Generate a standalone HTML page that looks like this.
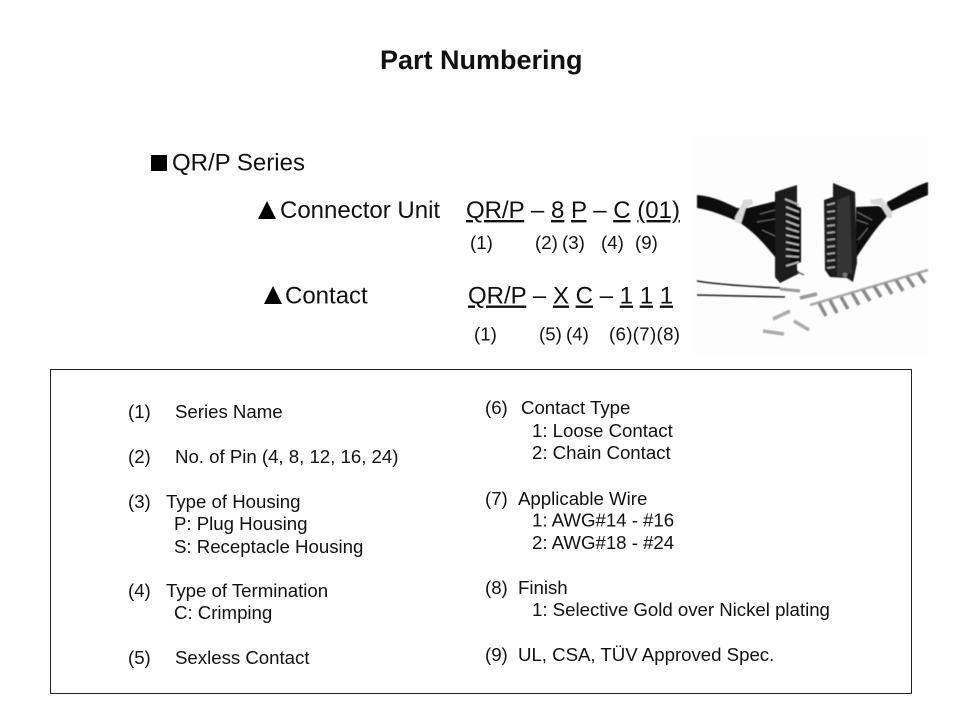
<!DOCTYPE html>
<html><head><meta charset="utf-8"><style>
html,body{margin:0;padding:0;background:#fff}
svg{display:block}
text{font-family:"Liberation Sans",sans-serif;fill:#111}
.s{font-size:18.67px;letter-spacing:-0.02px}
.n{font-size:18.67px}
.m{font-size:24px}
</style></head><body>
<svg width="960" height="720" viewBox="0 0 960 720" xmlns="http://www.w3.org/2000/svg">
<defs><filter id="b" x="-5%" y="-5%" width="110%" height="110%"><feGaussianBlur stdDeviation="0.6"/></filter></defs>
<rect width="960" height="720" fill="#fff"/>
<text x="380" y="69" font-size="27" font-weight="700">Part Numbering</text>

<rect x="151" y="155" width="16" height="16" fill="#000"/>
<text x="172" y="170.5" class="m">QR/P Series</text>
<polygon points="258,219 276,219 267,201" fill="#000"/>
<text x="280" y="218" class="m">Connector Unit</text>
<text x="466" y="218" class="m" xml:space="preserve"><tspan text-decoration="underline">QR/P</tspan> – <tspan text-decoration="underline">8</tspan> <tspan text-decoration="underline">P</tspan> – <tspan text-decoration="underline">C</tspan> <tspan text-decoration="underline">(01)</tspan></text>
<text x="470" y="249" class="n">(1)</text>
<text x="535" y="249" class="n">(2)</text>
<text x="562" y="249" class="n">(3)</text>
<text x="601" y="249" class="n">(4)</text>
<text x="635" y="249" class="n">(9)</text>

<polygon points="264,304 282,304 273,286" fill="#000"/>
<text x="285" y="303.5" class="m">Contact</text>
<text x="468" y="303.5" class="m" xml:space="preserve"><tspan text-decoration="underline">QR/P</tspan> – <tspan text-decoration="underline">X</tspan> <tspan text-decoration="underline">C</tspan> – <tspan text-decoration="underline">1</tspan> <tspan text-decoration="underline">1</tspan> <tspan text-decoration="underline">1</tspan></text>
<text x="474" y="340.5" class="n">(1)</text>
<text x="539" y="340.5" class="n">(5)</text>
<text x="566" y="340.5" class="n">(4)</text>
<text x="609" y="340.5" class="n" textLength="71">(6)(7)(8)</text>

<!-- photo -->
<rect x="695" y="135" width="233" height="222" fill="#fdfdfd"/>
<g filter="url(#b)">
<!-- left cable -->
<path d="M697,195 C712,196 725,202 737,208 L737,221 C725,216 710,210 697,208Z" fill="#0c0c0c"/>
<path d="M748,208 L776,201 L776,258 C765,245 755,232 737,221 L737,208Z" fill="#0c0c0c"/>
<path d="M757,222 L775,219 M760,214 L775,210 M762,230 L775,236" stroke="#777" stroke-width="0.8"/>
<path d="M735,217 L741,206 L743,200 L752,199 L753,204 L746,208 L741,224 L735,222Z" fill="#d8d8d8"/>
<!-- left connector -->
<path d="M775,192 L797,185 L797,270 L800,273 L780,283 L775,277Z" fill="#1c1c1c"/>
<path d="M790,203 L801,208 L801,262 L790,268Z" fill="#111"/>
<g stroke="#b5b5b5" stroke-width="1.8">
<line x1="785" y1="199" x2="799" y2="205"/><line x1="786" y1="207" x2="799" y2="212"/>
<line x1="786" y1="214" x2="799" y2="219"/><line x1="786" y1="221" x2="799" y2="226"/>
<line x1="786" y1="228" x2="799" y2="232"/><line x1="786" y1="235" x2="799" y2="238"/>
<line x1="786" y1="242" x2="799" y2="245"/><line x1="786" y1="249" x2="799" y2="251"/>
<line x1="786" y1="256" x2="799" y2="257"/><line x1="786" y1="266" x2="799" y2="262"/>
</g>
<path d="M798,272 L804,275" stroke="#666" stroke-width="1.5"/>
<!-- right cable -->
<path d="M928,182 C910,188 898,197 887,202 L887,213 C900,208 915,200 928,195Z" fill="#0c0c0c"/>
<path d="M856,207 L878,206 L892,212 C880,222 868,240 856,258Z" fill="#0c0c0c"/>
<path d="M857,212 L872,220 M857,220 L868,224 M858,240 L868,228" stroke="#777" stroke-width="0.8"/>
<path d="M870,200 L882,198 L892,212 L892,218 L888,218 L880,205 L871,204Z" fill="#d8d8d8"/>
<!-- right connector -->
<path d="M833,183 L855,192 L857,263 L853,282 L847,278 L830,277 L825,270 L824,200 L833,197Z" fill="#1c1c1c"/>
<path d="M837,200 L850,195 L852,273 L837,277Z" fill="#353535"/>
<g stroke="#a5a5a5" stroke-width="1.8">
<line x1="827" y1="205" x2="835" y2="203"/><line x1="827" y1="212" x2="835" y2="211"/>
<line x1="827" y1="219" x2="835" y2="218"/><line x1="827" y1="226" x2="835" y2="225"/>
<line x1="827" y1="233" x2="835" y2="232"/><line x1="827" y1="240" x2="835" y2="239"/>
<line x1="827" y1="247" x2="835" y2="246"/><line x1="827" y1="254" x2="835" y2="253"/>
<line x1="827" y1="261" x2="835" y2="260"/><line x1="827" y1="268" x2="835" y2="267"/>
</g>
<circle cx="845" cy="275" r="2.5" fill="#777"/>
<!-- wires -->
<path d="M697,281 C720,285 760,287 780,288" stroke="#222" stroke-width="1.6" fill="none"/>
<path d="M697,295 L785,297" stroke="#222" stroke-width="1.6" fill="none"/>
<path d="M780,289 L800,291" stroke="#999" stroke-width="3" fill="none"/>
<path d="M800,298 L817,294" stroke="#999" stroke-width="3.5" fill="none"/>
<!-- chain -->
<path d="M810,305 L928,270" stroke="#aaa" stroke-width="2.5" fill="none"/>
<g stroke="#8a8a8a" stroke-width="3.5">
<line x1="819" y1="303" x2="826" y2="316"/><line x1="830" y1="300" x2="837" y2="313"/>
<line x1="841" y1="297" x2="848" y2="309"/><line x1="852" y1="293" x2="859" y2="305"/>
<line x1="863" y1="290" x2="870" y2="301"/><line x1="874" y1="286" x2="881" y2="297"/>
<line x1="885" y1="283" x2="892" y2="294"/><line x1="896" y1="280" x2="903" y2="291"/>
<line x1="907" y1="277" x2="914" y2="287"/><line x1="918" y1="273" x2="925" y2="283"/>
</g>
<!-- loose contacts -->
<g stroke="#aaa" stroke-width="3.5">
<line x1="773" y1="319" x2="790" y2="311"/><line x1="794" y1="321" x2="809" y2="330"/><line x1="763" y1="331" x2="784" y2="334"/>
</g>
</g>

<rect x="50.5" y="369.5" width="861" height="324" fill="none" stroke="#222" stroke-width="1"/>

<g>
<text class="s" x="128" y="418">(1)</text><text class="s" x="175" y="418">Series Name</text>
<text class="s" x="128" y="463">(2)</text><text class="s" x="175" y="463">No. of Pin (4, 8, 12, 16, 24)</text>
<text class="s" x="128" y="508">(3)</text><text class="s" x="166" y="508">Type of Housing</text>
<text class="s" x="174" y="530">P: Plug Housing</text>
<text class="s" x="174" y="553">S: Receptacle Housing</text>
<text class="s" x="128" y="597">(4)</text><text class="s" x="166" y="597">Type of Termination</text>
<text class="s" x="174" y="619">C: Crimping</text>
<text class="s" x="128" y="664">(5)</text><text class="s" x="175" y="664">Sexless Contact</text>

<text class="s" x="485" y="414">(6)</text><text class="s" x="521" y="414">Contact Type</text>
<text class="s" x="532" y="437">1: Loose Contact</text>
<text class="s" x="532" y="459">2: Chain Contact</text>
<text class="s" x="485" y="505">(7)</text><text class="s" x="518" y="505">Applicable Wire</text>
<text class="s" x="532" y="526.5">1: AWG#14 - #16</text>
<text class="s" x="532" y="549">2: AWG#18 - #24</text>
<text class="s" x="485" y="594">(8)</text><text class="s" x="518" y="594">Finish</text>
<text class="s" x="532" y="616">1: Selective Gold over Nickel plating</text>
<text class="s" x="485" y="661">(9)</text><text class="s" x="518" y="661">UL, CSA, TÜV Approved Spec.</text>
</g>
</svg>
</body></html>
